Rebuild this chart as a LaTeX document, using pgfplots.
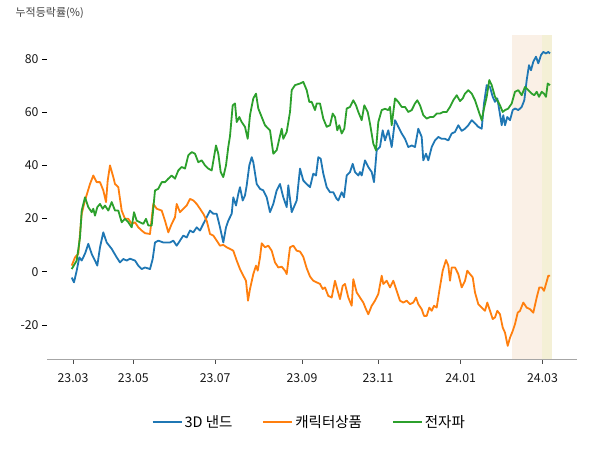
\documentclass[border=0pt]{standalone}
\usepackage{pgfplots}
\pgfplotsset{compat=1.18}
\usepackage{fontspec}
\setmainfont{Noto Sans CJK KR}
\definecolor{cblue}{HTML}{1F77B4}
\definecolor{corange}{HTML}{FF7F0E}
\definecolor{cgreen}{HTML}{2CA02C}
\definecolor{shadeA}{HTML}{FAF0E6}
\definecolor{shadeB}{HTML}{F4F0D6}
\begin{document}
\begin{tikzpicture}
\path[use as bounding box] (0pt,0pt) rectangle (600pt,450pt);
\begin{axis}[
  at={(47pt,91pt)}, anchor=south west,
  scale only axis, width=530pt, height=323pt,
  xmin=47, xmax=577, ymin=-32.83, ymax=88.68,
  axis x line*=bottom, axis y line*=left,
  x axis line style={draw=black!35, line width=0.8pt},
  y axis line style={draw=none},
  tick align=outside,
  major tick length=5pt,
  ytick style={black, line width=0.7pt},
  xtick style={black!70, line width=0.7pt},
  ytick={-20,0,20,40,60,80},
  xtick={73,133.3,215.2,302,378,460.7,542.5},
  xticklabels={23.03,23.05,23.07,23.09,23.11,24.01,24.03},
  /pgf/number format/assume math mode=true,
  ticklabel style={font=\fontsize{12.3}{14}\selectfont, text=black!90},
  xticklabel style={yshift=-6pt},
  ylabel={누적등락률(\%)},
  ylabel style={rotate=-90, at={(axis description cs:-0.066,1.071)}, anchor=west, font=\fontsize{11}{13}\selectfont, text=black!75},
  legend style={at={(axis description cs:0.495,-0.195)}, anchor=center, draw=none, fill=none,
    legend columns=3, font=\fontsize{14.5}{16}\selectfont,
    /tikz/every even column/.append style={column sep=28pt}},
  legend image code/.code={\draw[#1, line width=1.8pt] (0pt,0pt) -- (29pt,0pt);},
  clip=true,
]
\addplot[draw=none, fill=shadeA, forget plot] coordinates {(512.3,-40) (541.7,-40) (541.7,100) (512.3,100)} -- cycle;
\addplot[draw=none, fill=shadeB, forget plot] coordinates {(541.7,-40) (551.7,-40) (551.7,100) (541.7,100)} -- cycle;
\addplot[cblue, line width=1.8pt, line join=round] coordinates {
(71.7,-2.2) (74,-4) (76.7,0.4) (79.3,5.4) (81.7,4.2) (85,6.8) (88.3,10.5) (91.7,6.7) (95,4.2) (97.3,2.3)
(100,9.2) (103.3,14.8) (106.7,11) (111.7,8.6) (116.7,5.4) (120,3.5) (123.3,4.8) (126.7,4.2) (130,4.9) (135,4.2)
(138.3,2.3) (141.7,1) (145,1.6) (150,1) (152.7,4.8) (155,11) (158.3,11.7) (163.3,11) (170,11) (173.3,11.7)
(176.7,9.8) (180,11.7) (183.3,13.6) (186.7,12.9) (190,15.5) (193.3,14.8) (196.7,16.7) (200,15.5) (203.3,18) (206.7,20.5)
(210,23) (213.3,21.8) (216.7,21.8) (220,16.7) (223.3,11) (226,16.7) (228.3,19.2) (231.7,21.8) (233.3,28) (236,24.9)
(238.3,29.3) (240,31.8) (242.7,26.8) (245,28.7) (246.7,32.5) (249.3,40) (251.7,43.1) (253.3,41.2) (256.7,33) (260,31.2)
(263.3,30.6) (266.7,28) (270,22.4) (273.3,25.5) (276.7,30.6) (280,33) (283.3,28) (286.7,24.3) (288.3,32.5) (291.7,22.4)
(296.7,26.8) (300,38.8) (303.3,34.3) (306.7,33) (310,31.8) (313.3,36.9) (316,36.2) (318.3,43.1) (320.7,42.5) (323.3,36.9)
(326.7,31.8) (330,29.9) (333.3,29.9) (336.7,27.4) (338.3,26.8) (341.7,29.9) (344,28) (346.7,36.2) (350,37.5) (352.7,40.6)
(355,37.5) (358.3,36.2) (360,37.5) (361.7,36.2) (365,41.9) (368.3,39.4) (371.7,37.5) (374,33.7) (376.7,45.7) (380,47)
(382.7,53.2) (385,49.4) (388.3,53.2) (391.7,46.9) (395,57) (398.3,54.5) (401.7,52) (405,50) (408.3,46.9) (411.7,47.5)
(415,46.9) (418.3,53.8) (421.7,50.7) (423.3,41.9) (426,44.4) (428.3,41.9) (431.7,46.9) (435,49.4) (438.3,50.7) (441.7,50)
(445,50) (448.3,49.4) (451.7,52) (455,52.6) (458.3,55.1) (461.7,53) (465,53.8) (468.3,55.1) (471.7,57) (475,55.8)
(478.3,54.5) (481.7,53.8) (484,63.3) (486.7,70.2) (490,69.5) (492.7,65.8) (495,63.9) (497.3,65.2) (499.3,60.8) (501.7,55.1)
(503.3,58.9) (505,55.1) (507.3,58.2) (510,57) (512.7,60.8) (515,61.4) (518.3,60.8) (521.7,62) (524.3,64.5) (526.7,72.1)
(529,77.7) (531,75.8) (533.3,79) (536,80.9) (538.3,78.4) (541,81.5) (543.3,82.7) (546,82.1) (548.3,82.7) (550,82.1)
};
\addlegendentry{3D 낸드}
\addplot[corange, line width=1.8pt, line join=round] coordinates {
(71.7,2.3) (75,5.4) (78.3,6.8) (81.7,21.8) (85,26.8) (90,33) (93.3,36.2) (96.7,33.7) (100,33.7) (103.3,30.6)
(106,26.2) (107.7,34.3) (110,40) (113.3,35.6) (115,33) (118.3,31.8) (121.7,23) (125,19.9) (128.3,19.9) (131.7,18)
(135,18.6) (138.3,16.7) (141.7,15.5) (145,14.5) (150,14.2) (153.3,25.5) (156.7,23.7) (161.7,23) (165,19.2) (168.3,14.8)
(171.7,18) (175,20.5) (176.7,25.5) (180,22.4) (183.3,23.7) (186.7,24.9) (190,27.4) (193.3,26.8) (196.7,25.5) (200,23.7)
(203.3,21.8) (206.7,19.2) (210,14.2) (213.3,13.6) (216.7,11.7) (220,9.8) (223.3,10.1) (226.7,9.2) (230,8.6) (233.3,7.9)
(236.7,4.2) (240,1) (243.3,-1.5) (246,-3.4) (248,-10.9) (250,-6.5) (253.3,-0.9) (256,2.3) (257.7,0.4) (260,5.4)
(261.7,10.7) (265,9.2) (268.3,9.8) (271.7,7.9) (275,3.5) (278.3,1.6) (281.7,1.9) (285,0.4) (286.7,-0.9) (290,9.2)
(293.3,9.8) (296.7,7.9) (300,7.6) (303.3,5.6) (306.7,1.3) (310,-1.8) (313.3,-3.4) (316.7,-4) (320,-4.6) (322.7,-6.5)
(325,-5.9) (328.3,-9.1) (331.7,-9.7) (335,-3.4) (337.7,-7.2) (340,-10.3) (342.7,-5.3) (345,-4.6) (348.3,-9.7) (351.7,-12.8)
(353.3,-2.8) (356.7,-7.8) (360,-9.7) (363.3,-11.6) (366,-14.1) (368.3,-16) (371.7,-12.8) (375,-10.9) (378.3,-8.4) (381.7,-1.5)
(383.3,-4.6) (386.7,-3.4) (390,-5.9) (393.3,-3.4) (396.7,-7.2) (400,-10.9) (403.3,-11.6) (406.7,-10.9) (410,-12.2) (413.3,-11.6)
(416,-9.7) (418.3,-12.2) (421.7,-14.1) (424,-16.6) (426.7,-16.6) (429.3,-13.5) (431.7,-14.7) (434,-12.8) (436.7,-13.5) (439.3,-7.2)
(442.7,0.4) (446,4.4) (448.3,2.3) (450,-3.4) (451.7,1.6) (455,1.6) (458.3,-0.9) (461.7,-5.9) (465,-3.4) (467.3,0.4)
(470,-0.9) (472.7,-2.1) (475,-7.8) (478.3,-12.2) (481.7,-13.5) (485,-14.7) (487.3,-11.6) (490,-14.7) (492.7,-17.8) (495,-17.2)
(497.3,-14.7) (500,-16) (502.7,-21) (505,-22.9) (507.7,-27.9) (510,-24.8) (512.7,-22.3) (515,-19.7) (517.7,-15.4) (520,-14.7)
(523.3,-11.6) (526.7,-13.5) (530,-14.1) (533.3,-15.4) (536.7,-9.7) (539.3,-5.9) (541.7,-5.9) (544,-7.2) (546,-4.6) (548.3,-1.5)
(550,-1.5)
};
\addlegendentry{캐릭터상품}
\addplot[cgreen, line width=1.8pt, line join=round] coordinates {
(71.7,1) (76.7,4.2) (80,12.9) (81.7,23) (85,28) (88.3,24.3) (91.7,22.4) (93.3,23.7) (95,21.1) (97.3,24.3)
(100,25.5) (102.7,23.7) (105,24.9) (108.3,23) (111.7,26.2) (115,23) (118.3,23) (121.7,18.6) (125,19.9) (128.3,18.6)
(131.7,16.7) (134,22.4) (136.7,19.2) (140,18.6) (143.3,18) (146,19.9) (148.3,17.4) (151.7,17.4) (155,30.6) (158.3,31.2)
(161.7,33.7) (165,33.7) (168.3,35) (171.7,36.2) (175,35) (178.3,38.1) (181.7,39.4) (185,38.8) (188.3,43.8) (191.7,45)
(195,44.4) (198.3,41.2) (201.7,41.9) (205,40) (208.3,38.8) (211.7,38.1) (216,47.5) (218.3,44.4) (220.7,37.5) (223.3,35.6)
(226,40) (228.3,47) (230,51) (232.7,62.6) (235,63.3) (236.7,56.3) (239.3,58.2) (241.7,56.3) (245,54.5) (247.7,50)
(250,58.9) (253.3,65.2) (256,67) (258.3,61.4) (261.7,58.2) (265,55.1) (270,53.2) (273.3,44.4) (276.7,45.7) (279.3,50)
(281.7,53.8) (283.3,50) (286.7,52.6) (290,60.1) (291.7,68.3) (295,70.2) (300,70.8) (303.3,71.4) (306.7,68.3) (309.3,63.9)
(311.7,63.9) (315,60.8) (316.7,63.3) (320,63.3) (323.3,57.6) (326.7,54.5) (330,55.1) (332.7,59.5) (335,58.2) (337.3,53.2)
(339.3,55.1) (341.7,52) (344.3,53.8) (346.7,61.4) (350,62) (353.3,64.5) (356,62.6) (358.3,60.1) (361.7,57) (364.3,62.6)
(367.7,60.1) (370,55.7) (373.3,48.2) (376,45.7) (378.3,56.3) (381.7,60.8) (385,61.3) (388.3,60.8) (390,62) (391.7,55.1)
(395,65.2) (398.3,63.9) (401.7,62) (405,62) (408.3,60.1) (411.7,60.8) (415,63.3) (417.3,64.5) (420,62.6) (423.3,58.9)
(426.7,57.6) (430,58.2) (433.3,58.2) (436.7,59.5) (440,59.5) (443.3,60.1) (446.7,60.1) (450,62) (453.3,64.5) (456.7,66.4)
(460,64.2) (462.7,65.2) (465,67) (468.3,68.3) (471.7,67) (475,64.5) (478.3,60.8) (481.7,57) (484,61.4) (486.7,65.8)
(489.3,72.1) (491.7,70.2) (495,65.8) (498.3,63.9) (500,62.6) (502.7,60.1) (505,60.8) (508.3,61.4) (511.7,63.3) (515,67.7)
(518.3,68.3) (521.7,66.4) (525,69.5) (528.3,68.3) (531.7,67) (534.3,66.4) (536.7,67.7) (539,65.8) (541.7,67.7) (544,67)
(546,65.8) (547.7,70.8) (550,70.2)
};
\addlegendentry{전자파}
\end{axis}
\end{tikzpicture}
\end{document}
